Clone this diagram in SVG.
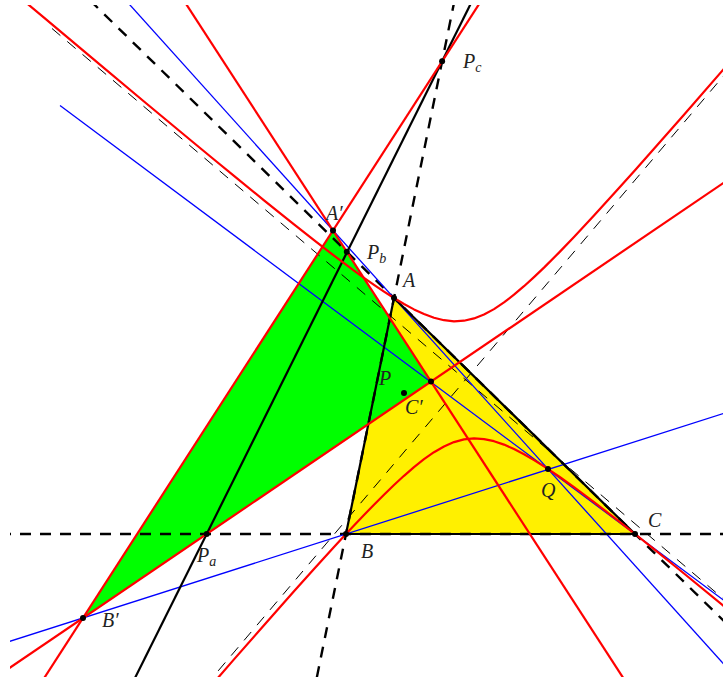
<svg xmlns="http://www.w3.org/2000/svg" width="723" height="683" viewBox="0 0 723 683">
<style>
.red{fill:none;stroke:#ff0000;stroke-width:2.2;stroke-linejoin:round}
.blue{fill:none;stroke:#0000ff;stroke-width:1.3}
.blk{fill:none;stroke:#000;stroke-width:2.2;stroke-linejoin:round}
.thick{fill:none;stroke:#000;stroke-width:2.4;stroke-dasharray:11 9}
.thin{fill:none;stroke:#000;stroke-width:1;stroke-dasharray:11 9}
.lbl{font-family:"Liberation Serif","Times New Roman",serif;font-style:italic;font-size:20px;fill:#222}
.sub{font-size:14px}
.dot{fill:#000}
</style>
<defs><clipPath id="frame"><rect x="10" y="5" width="713" height="672"/></clipPath></defs>
<rect width="723" height="683" fill="#fff"/>
<g id="fills" clip-path="url(#frame)">
<polygon id="triangle-ABC" points="394,298 346,534 635,534" fill="#fff000"/>
<polygon id="triangle-A1B1C1" points="333,230.5 83,618 431,381.6" fill="#00ff00"/>
</g>
<g id="connectors" clip-path="url(#frame)">
<line class="thin" x1="52" y1="28.5" x2="879" y2="731"/>
<line class="thin" x1="114.6" y1="792.8" x2="816" y2="-33"/>
<line class="thick" x1="0" y1="534" x2="723" y2="534"/>
<line class="thick" x1="454.6" y1="0" x2="315.7" y2="683"/>
<line class="thick" x1="90" y1="0.3" x2="740" y2="636.8"/>
<line class="blue" x1="125.5" y1="0" x2="740" y2="682.2"/>
<line class="blue" x1="60" y1="105.6" x2="740" y2="612.4"/>
<line class="blue" x1="0" y1="644.5" x2="740" y2="408.2"/>
<polygon class="blk" points="394,298 346,534 635,534"/>
<line class="blk" x1="472.6" y1="0" x2="132.5" y2="683"/>
<line class="red" x1="481.7" y1="0" x2="41" y2="683"/>
<line class="red" x1="183.5" y1="0" x2="626.5" y2="683"/>
<line class="red" x1="0" y1="674.4" x2="740" y2="171.7"/>
<polyline class="red" points="14,-7.5 44,17.7 94,59.7 144,101.5 194,143 214,159.5 234,175.9 264,200.3 294,224.4 314,240.2 334,255.7 354,270.6 364,277.9 374,284.9 384,291.6 394,298 404,304 414,309.4 424,314 434,317.7 444,320.2 454,321.3 464,320.7 474,318.4 484,314.5 494,309.1 504,302.4 514,294.7 524,286.2 534,277.1 544,267.6 559,252.6 574,237 594,215.5 619,188.1 635,170.2 654,148.8 684,114.7 723,69.9 734,57.3"/>
<polyline class="red" points="214,682.4 234,659.4 264,625.2 294,591.3 314,569 334,547 346,534 354,525.5 364,515 374,504.7 384,494.7 394,485 404,475.8 414,467.1 424,459.2 434,452.2 444,446.5 454,442.1 464,439.4 474,438.4 484,439.1 494,441.2 504,444.6 514,449.1 524,454.3 534,460.1 544,466.4 559,476.5 574,487.2 594,502.1 619,521.4 635,534 654,549.2 684,573.5 723,605.5 734,614.6"/>
</g>
<g id="node-A"><circle class="dot" cx="394" cy="298" r="3"/><text class="lbl" x="403" y="287">A</text></g>
<g id="node-B"><circle class="dot" cx="346" cy="534" r="3"/><text class="lbl" x="361" y="558">B</text></g>
<g id="node-C"><circle class="dot" cx="635" cy="534" r="3"/><text class="lbl" x="648" y="527">C</text></g>
<g id="node-A1"><circle class="dot" cx="333" cy="230.5" r="3"/><text class="lbl" x="326" y="220">A′</text></g>
<g id="node-B1"><circle class="dot" cx="83" cy="618" r="3"/><text class="lbl" x="102" y="627">B′</text></g>
<g id="node-C1"><circle class="dot" cx="431" cy="381.6" r="3"/><text class="lbl" x="405" y="414">C′</text></g>
<g id="node-P"><circle class="dot" cx="404" cy="393" r="3"/><text class="lbl" x="379" y="385">P</text></g>
<g id="node-Q"><circle class="dot" cx="548" cy="469" r="3"/><text class="lbl" x="541" y="497">Q</text></g>
<g id="node-Pa"><circle class="dot" cx="206.7" cy="534" r="3"/><text class="lbl" x="197" y="562">P<tspan class="sub" dy="4">a</tspan></text></g>
<g id="node-Pb"><circle class="dot" cx="346.8" cy="251.8" r="3"/><text class="lbl" x="367" y="259">P<tspan class="sub" dy="4">b</tspan></text></g>
<g id="node-Pc"><circle class="dot" cx="442.1" cy="61.3" r="3"/><text class="lbl" x="463" y="68">P<tspan class="sub" dy="4">c</tspan></text></g>
</svg>
